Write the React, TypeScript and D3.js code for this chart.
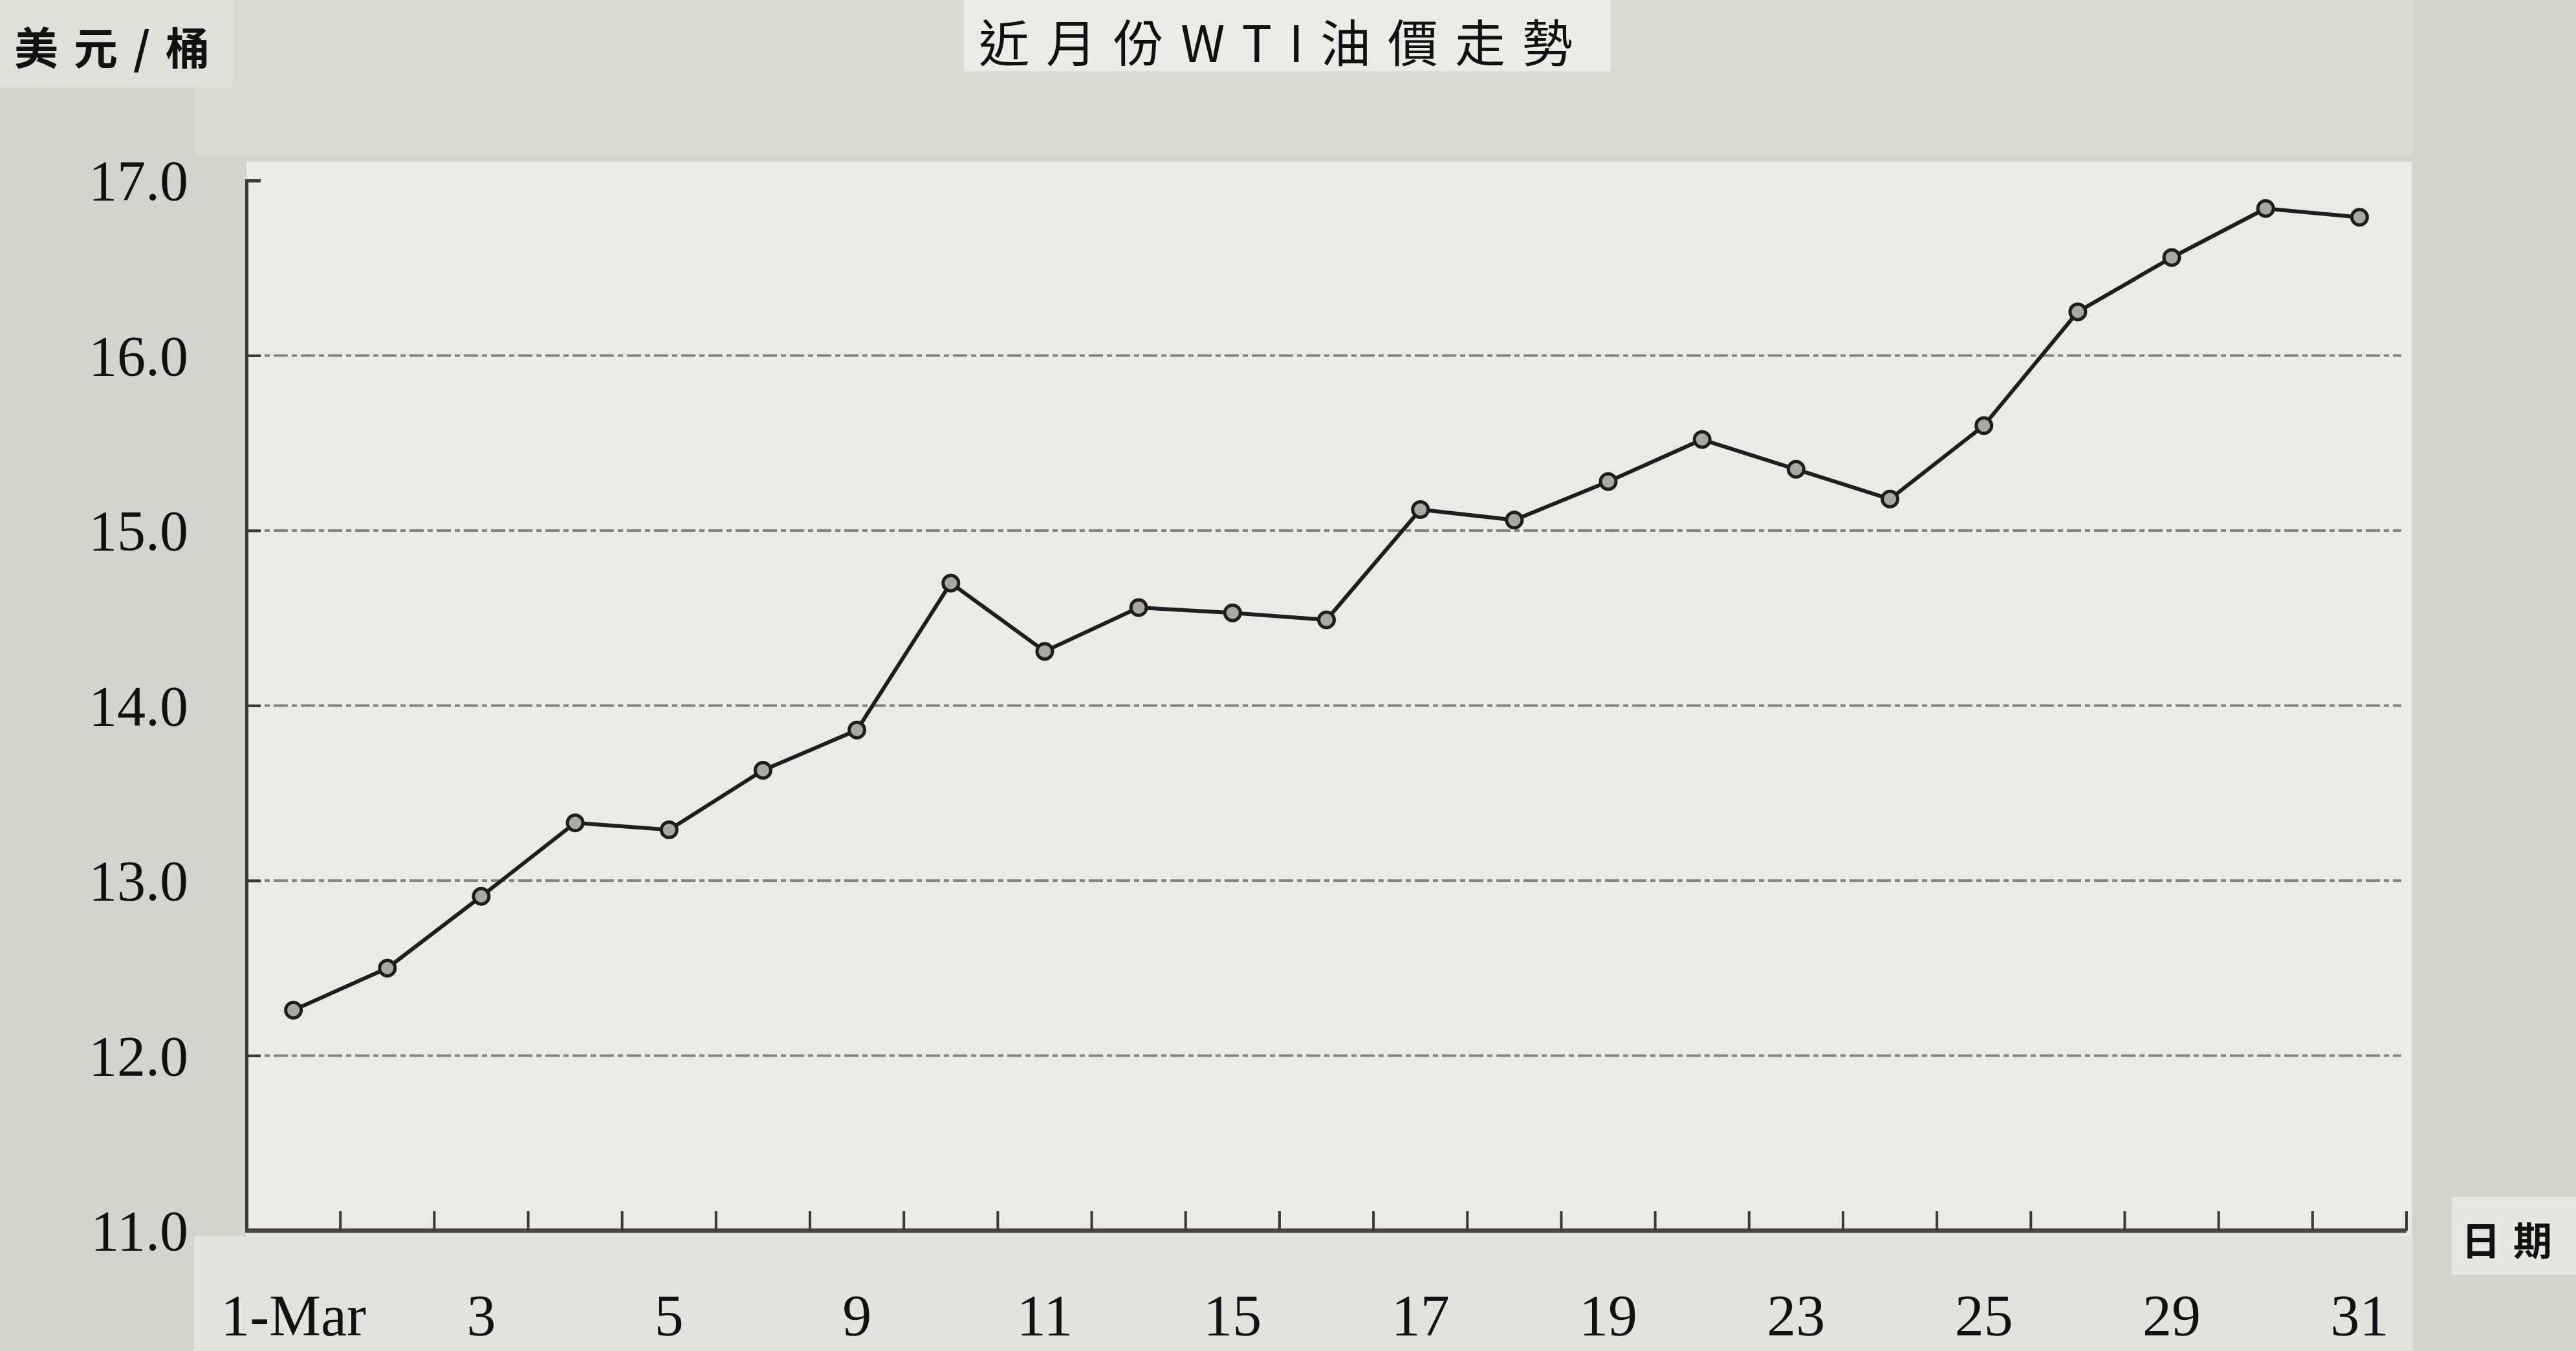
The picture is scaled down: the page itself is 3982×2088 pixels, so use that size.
import { useEffect, useRef } from "react"
import * as d3 from "d3"

// trading days in March
const days = ["1", "2", "3", "4", "5", "8", "9", "10", "11", "12", "15", "16", "17", "18", "19", "22", "23", "24", "25", "26", "29", "30", "31"]
const prices = [12.26, 12.5, 12.91, 13.33, 13.29, 13.63, 13.86, 14.7, 14.31, 14.56, 14.53, 14.49, 15.12, 15.06, 15.28, 15.52, 15.35, 15.18, 15.6, 16.25, 16.56, 16.84, 16.79]
const yTicks = [11, 12, 13, 14, 15, 16, 17]
const xLabels = ["1-Mar", "", "3", "", "5", "", "9", "", "11", "", "15", "", "17", "", "19", "", "23", "", "25", "", "29", "", "31"]
const title = "近月份WTI油價走勢"
const yTitle = "美元/桶"
const xTitle = "日期"

export default function App() {
  const svgRef = useRef<SVGSVGElement>(null)

  useEffect(() => {
    if (!svgRef.current) return
    d3.select(svgRef.current).selectAll("*").remove()

    const width = 3982
    const height = 2088
    const svg = d3.select(svgRef.current)

    const left = 381
    const right = 3720
    const top = 279
    const bottom = 1902

    const x = d3.scaleBand<string>().domain(days).range([left, right]).padding(0)
    const y = d3.scaleLinear().domain([11, 17]).range([bottom, top])

    // paper background
    svg.append("rect").attr("width", width).attr("height", height).attr("fill", "#d4d4cf")
    svg.append("rect").attr("x", 300).attr("y", 0).attr("width", 3430).attr("height", 240).attr("fill", "#dbdbd6")
    svg.append("rect").attr("x", 0).attr("y", 0).attr("width", 360).attr("height", 135).attr("fill", "#e0e0db")
    svg.append("rect").attr("x", 1490).attr("y", 0).attr("width", 1000).attr("height", 110).attr("fill", "#ebebe8")
    svg.append("rect").attr("x", left).attr("y", 250).attr("width", right - left + 8).attr("height", bottom - 250 + 8).attr("fill", "#eaeae6")
    svg.append("rect").attr("x", 300).attr("y", bottom + 8).attr("width", right - 300 + 10).attr("height", height - bottom).attr("fill", "#e2e2de")
    svg.append("rect").attr("x", 3790).attr("y", 1850).attr("width", 192).attr("height", 120).attr("fill", "#e6e6e2")

    // gridlines
    svg
      .append("g")
      .selectAll("line")
      .data(yTicks.filter((d) => d > 11 && d < 17))
      .enter()
      .append("line")
      .attr("x1", left)
      .attr("x2", right - 8)
      .attr("y1", (d) => y(d))
      .attr("y2", (d) => y(d))
      .attr("stroke", "#848480")
      .attr("stroke-width", 4)
      .attr("stroke-dasharray", "22 6 8 6")

    // y axis
    const yAxis = d3
      .axisLeft(y)
      .tickValues(yTicks)
      .tickSize(-22)
      .tickPadding(90)
      .tickFormat((d) => (d as number).toFixed(1))
    const gy = svg.append("g").attr("transform", `translate(${left},0)`).call(yAxis)
    gy.select(".domain").attr("stroke", "#3a3a38").attr("stroke-width", 5)
    gy.selectAll(".tick line").attr("stroke", "#3a3a38").attr("stroke-width", 4)
    gy.selectAll(".tick text")
      .attr("fill", "#111")
      .attr("font-family", "Liberation Serif, serif")
      .attr("font-size", 88)
      .attr("dy", "0.34em")

    // x axis
    const gx = svg.append("g")
    gx.append("line")
      .attr("x1", left)
      .attr("x2", right)
      .attr("y1", bottom)
      .attr("y2", bottom)
      .attr("stroke", "#4a4542")
      .attr("stroke-width", 7)
    gx.selectAll(".xt")
      .data(days)
      .enter()
      .append("line")
      .attr("class", "xt")
      .attr("x1", (d) => (x(d) as number) + x.bandwidth())
      .attr("x2", (d) => (x(d) as number) + x.bandwidth())
      .attr("y1", bottom)
      .attr("y2", bottom - 30)
      .attr("stroke", "#3a3a38")
      .attr("stroke-width", 4)
    gx.selectAll(".xl")
      .data(days)
      .enter()
      .append("text")
      .attr("class", "xl")
      .attr("x", (d) => (x(d) as number) + x.bandwidth() / 2)
      .attr("y", 2064)
      .attr("text-anchor", "middle")
      .attr("font-family", "Liberation Serif, serif")
      .attr("font-size", 90)
      .attr("fill", "#111")
      .text((d, i) => xLabels[i])

    // line
    const line = d3
      .line<number>()
      .x((d, i) => (x(days[i]) as number) + x.bandwidth() / 2)
      .y((d) => y(d))
    svg.append("path").datum(prices).attr("d", line).attr("fill", "none").attr("stroke", "#1e1e1e").attr("stroke-width", 6).attr("stroke-linejoin", "round")

    svg
      .append("g")
      .selectAll("circle")
      .data(prices)
      .enter()
      .append("circle")
      .attr("cx", (d, i) => (x(days[i]) as number) + x.bandwidth() / 2)
      .attr("cy", (d) => y(d))
      .attr("r", 12)
      .attr("fill", "#a9a8a2")
      .attr("stroke", "#1e1e1e")
      .attr("stroke-width", 5)

    // titles
    svg.append("text")
      .attr("x", 1985)
      .attr("y", 96)
      .attr("text-anchor", "middle")
      .attr("font-family", "Noto Sans CJK TC, sans-serif")
      .attr("font-size", 78)
      .attr("letter-spacing", 26)
      .attr("fill", "#111")
      .text(title)
    svg.append("text")
      .attr("x", 22)
      .attr("y", 100)
      .attr("font-family", "Noto Sans CJK TC, sans-serif")
      .attr("font-weight", 700)
      .attr("font-size", 68)
      .attr("letter-spacing", 24)
      .attr("fill", "#111")
      .text(yTitle)
    svg.append("text")
      .attr("x", 3885)
      .attr("y", 1940)
      .attr("text-anchor", "middle")
      .attr("font-family", "Noto Sans CJK TC, sans-serif")
      .attr("font-weight", 700)
      .attr("font-size", 60)
      .attr("letter-spacing", 20)
      .attr("fill", "#111")
      .text(xTitle)
  }, [])

  return <svg ref={svgRef} width={3982} height={2088} style={{ position: "absolute", left: 0, top: 0, display: "block" }} />
}
